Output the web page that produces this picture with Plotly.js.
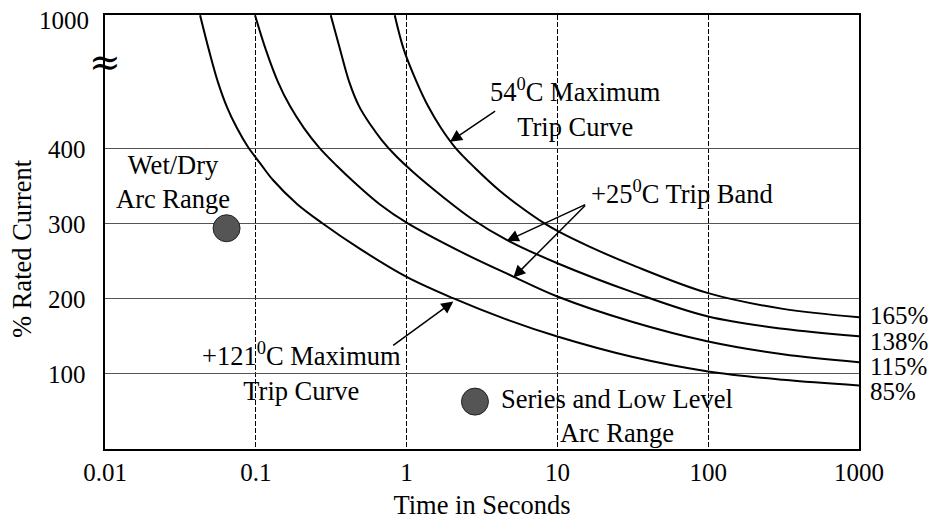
<!DOCTYPE html>
<html>
<head>
<meta charset="utf-8">
<script src="https://cdn.plot.ly/plotly-3.0.1.min.js"></script>
<style>
  html, body { margin: 0; padding: 0; background: #ffffff; }
  #chart { width: 935px; height: 520px; }
</style>
</head>
<body>
<div id="chart"></div>
<script>
// Circuit breaker trip curves: time to trip (seconds) against % of rated current.

// +121 °C maximum trip curve (ends at 85%)
const hotTime    = [0.0427, 0.0489, 0.0561, 0.0644, 0.0750, 0.0888, 0.1066, 0.130, 0.1876, 0.2748,
                    0.491, 1, 2.03, 4.49, 10, 31.2, 100, 313, 1000];
const hotCurrent = [576.8, 530.3, 487.8, 454.6, 426.7, 401.5, 380.2, 357.6, 325.8, 300.5,
                    266.0, 228.8, 200.5, 173.0, 149.5, 122.6, 103.1, 92.0, 84.5];

// +25 °C trip band, lower edge (ends at 115%)
const bandLowTime    = [0.0988, 0.1168, 0.1404, 0.1685, 0.2087, 0.2625, 0.3402, 0.4548, 0.6663, 1,
                        2.26, 5.10, 10, 31.2, 100, 313, 1000];
const bandLowCurrent = [576.8, 530.3, 487.8, 455.9, 426.7, 401.1, 377.6, 353.7, 325.1, 300.9,
                        262.7, 229.2, 202.7, 169.1, 142.9, 125.9, 115.3];

// +25 °C trip band, upper edge (ends at 138%)
const bandHighTime    = [0.3139, 0.3618, 0.4169, 0.4835, 0.5719, 0.6839, 0.8378, 1.103, 1.743, 2.715,
                         4.61, 10, 31.2, 100, 313, 1000];
const bandHighCurrent = [576.8, 531.6, 487.8, 455.9, 432.0, 410.8, 390.8, 368.3, 335.1, 305.8,
                         278.0, 247.0, 208.9, 176.1, 159.8, 149.8];

// 54 °C maximum trip curve (ends at 165%)
const coldTime    = [0.834, 0.961, 1.167, 1.387, 1.691, 2.094, 2.842, 4.163, 5.649, 8.063,
                     10, 16.45, 31.2, 100, 313, 1000];
const coldCurrent = [576.8, 530.3, 487.8, 455.9, 426.7, 401.1, 373.6, 343.0, 322.4, 300.9,
                     289.9, 268.7, 244.8, 207.2, 186.3, 175.3];

// Arc ranges shown as dots
const arcTime    = [0.064, 2.84];
const arcCurrent = [293.5, 63];

// Axis ticks (the top value of the broken current axis reads 1000)
const xTickVals = [0.01, 0.1, 1, 10, 100, 1000];
const xTickText = ['0.01', '0.1', '1', '10', '100', '1000'];
const yTickVals = [100, 200, 300, 400, 571];
const yTickText = ['100', '200', '300', '400', '1000'];
const yGridVals = [100, 200, 300, 400];

// End-of-curve rating labels
const ratingLabels = ['165%', '138%', '115%', '85%'];

const FONT = 'Liberation Serif, Times New Roman, serif';
const lg = Math.log10;

const lineStyle = { color: '#000000', width: 2, shape: 'spline', smoothing: 1 };
const curves = [
  [coldTime, coldCurrent],
  [bandHighTime, bandHighCurrent],
  [bandLowTime, bandLowCurrent],
  [hotTime, hotCurrent]
];

const traces = curves.map(([t, c]) => ({
  type: 'scatter', mode: 'lines', x: t, y: c,
  line: lineStyle, hoverinfo: 'skip', showlegend: false
}));

traces.push({
  type: 'scatter', mode: 'markers', x: arcTime, y: arcCurrent,
  marker: { size: 27, color: '#555555', line: { color: '#222222', width: 1 } },
  hoverinfo: 'skip', showlegend: false
});

const textFont = { family: FONT, size: 26.5, color: '#000000' };
const tickFont = { family: FONT, size: 25, color: '#000000' };

const annotations = [
  { x: -1.549, y: 355, text: 'Wet/Dry<br>Arc Range' },
  { x: 1.393, y: 43.6, text: 'Series and Low Level<br>Arc Range' },
  { x: -0.697, y: 103, text: '+121<sup>0</sup>C Maximum<br>Trip Curve' },
  { x: 1.117, y: 454, text: '54<sup>0</sup>C Maximum<br>Trip Curve' },
  { x: 1.829, y: 341.7, text: '+25<sup>0</sup>C Trip Band' }
].map(a => Object.assign({ xref: 'x', yref: 'y', showarrow: false, font: textFont,
  xanchor: 'center', yanchor: 'middle', align: 'center' }, a));

// rating labels beside each curve end
const ends = [coldCurrent, bandHighCurrent, bandLowCurrent, hotCurrent];
const endShift = [2, -5, -4, -6];
ends.forEach((c, i) => {
  annotations.push({
    xref: 'x', yref: 'y', x: lg(1000), y: c[c.length - 1], text: ratingLabels[i],
    showarrow: false, xanchor: 'left', yanchor: 'middle', xshift: 9, yshift: endShift[i],
    font: tickFont
  });
});

// current-axis tick labels, right-aligned left of the frame
yTickVals.forEach((v, i) => {
  annotations.push({
    xref: 'paper', yref: 'y', x: 0, y: v, text: yTickText[i], showarrow: false,
    xanchor: 'right', yanchor: 'middle', xshift: i === yTickVals.length - 1 ? -14 : -17,
    yshift: -1, font: tickFont
  });
});

// current-axis title
annotations.push({
  xref: 'paper', yref: 'paper', x: 0, y: 0.5, text: '% Rated Current', textangle: -90,
  showarrow: false, xanchor: 'center', yanchor: 'middle', xshift: -83, yshift: -17,
  font: textFont
});

// pointer arrows
const arrows = [
  { x: 0.288, y: 408.5, ax: 0.597, ay: 450.7 },
  { x: 0.664, y: 276.6, ax: 1.194, ay: 325.8 },
  { x: 0.708, y: 227.9, ax: 1.194, ay: 325.8 },
  { x: 0.310, y: 196,   ax: -0.099, ay: 136.3 }
];
arrows.forEach(a => annotations.push(Object.assign({
  xref: 'x', yref: 'y', axref: 'x', ayref: 'y', text: '', showarrow: true,
  arrowhead: 2, arrowsize: 1.6, arrowwidth: 1.5, arrowcolor: '#000000', standoff: 0
}, a)));

// axis break mark
annotations.push({
  xref: 'paper', yref: 'y', x: 0, y: 514, text: '\u2248', showarrow: false,
  xanchor: 'center', yanchor: 'middle', font: { family: 'DejaVu Serif', size: 38, color: '#000000' }
});

const layout = {
  width: 935, height: 520,
  margin: { l: 105, r: 76, t: 15, b: 71 },
  paper_bgcolor: '#ffffff', plot_bgcolor: '#ffffff',
  font: { family: FONT, size: 25, color: '#000000' },
  showlegend: false,
  xaxis: {
    type: 'log', range: [-2, 3],
    tickvals: xTickVals, ticktext: xTickText, ticks: '',
    tickfont: tickFont,
    showgrid: true, gridcolor: '#000000', gridwidth: 1, griddash: '5px,2px',
    showline: true, linecolor: '#000000', linewidth: 2, mirror: true,
    zeroline: false,
    title: { text: 'Time in Seconds', font: { family: FONT, size: 26.5 }, standoff: 11 }
  },
  yaxis: {
    range: [0, 577],
    tickvals: yGridVals, ticks: '', showticklabels: false,
    showgrid: true, gridcolor: '#555555', gridwidth: 1,
    showline: true, linecolor: '#000000', linewidth: 2, mirror: true,
    zeroline: false
  },
  annotations: annotations
};

Plotly.newPlot('chart', traces, layout, { staticPlot: true, displayModeBar: false });
</script>
</body>
</html>
